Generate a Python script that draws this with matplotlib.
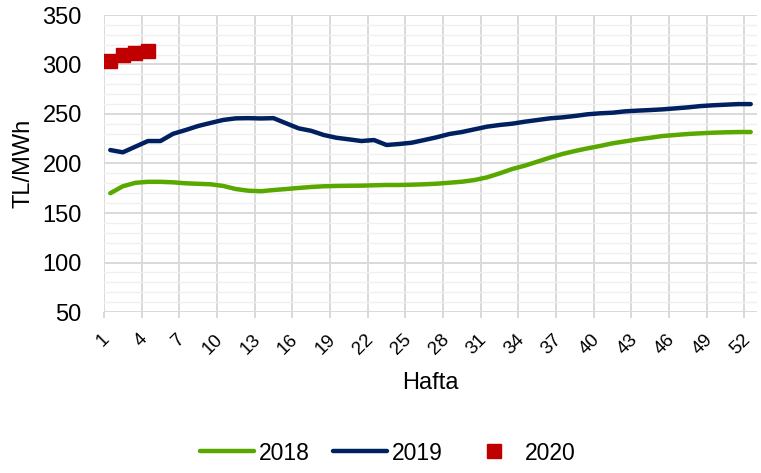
#!/usr/bin/env python3
"""Weekly average price (TL/MWh) for 2018, 2019 and the first weeks of 2020."""

import matplotlib
import matplotlib.pyplot as plt
import matplotlib.transforms as mtransforms
from matplotlib.ticker import FixedLocator, MultipleLocator

matplotlib.use("Agg")

weeks = list(range(1, 53))

price_2018 = [
    170, 177, 180.5, 181.5, 181.5, 181, 180, 179.5, 179, 177.3,
    174.2, 172.5, 172, 173.2, 174.2, 175.3, 176.3, 177, 177.3, 177.5,
    177.6, 178, 178.3, 178.3, 178.6, 179, 179.6, 180.6, 181.6, 183.3,
    186, 190, 194.4, 197.8, 201.8, 205.9, 209.6, 212.6, 215.3, 217.7,
    220.4, 222.4, 224.4, 226, 227.8, 228.8, 229.8, 230.5, 231.1, 231.5,
    231.8, 231.8,
]

price_2019 = [
    213.6, 211.3, 217, 222.7, 222.7, 230, 233.8, 237.9, 241, 244,
    245.6, 245.8, 245.5, 245.8, 240.6, 235.5, 233, 228.8, 226, 224.4,
    222.7, 223.7, 218.7, 219.7, 221, 223.7, 226.5, 229.8, 231.8, 234.5,
    237.2, 238.9, 240.2, 242.2, 243.9, 245.6, 246.6, 248, 249.7, 250.7,
    251.3, 252.7, 253.4, 254, 254.7, 255.7, 256.7, 258, 258.8, 259.4,
    260, 260,
]

weeks_2020 = [1, 2, 3, 4]
price_2020 = [304, 310, 312, 314]

tick_weeks = list(range(1, 53, 3))

GREEN = "#58a800"
NAVY = "#002060"
RED = "#c00000"
FONT = "Liberation Sans"


def main() -> None:
    plt.rcParams["font.family"] = [FONT, "DejaVu Sans"]

    fig = plt.figure(figsize=(7.61, 4.73), dpi=100)
    ax = fig.add_axes([104 / 761, 1 - 312 / 473, (757 - 104) / 761, (312 - 15) / 473])

    # grid first so the series sit on top
    ax.set_axisbelow(True)
    ax.yaxis.set_major_locator(MultipleLocator(50))
    ax.yaxis.set_minor_locator(MultipleLocator(10))
    ax.grid(axis="y", which="major", color="#d9d9d9", linewidth=1.4)
    ax.grid(axis="y", which="minor", color="#f0f0f0", linewidth=1.0)

    # category boundaries every third week carry the vertical grid + tick marks
    bounds = [w - 0.5 for w in tick_weeks]
    ax.xaxis.set_minor_locator(FixedLocator(bounds))
    ax.grid(axis="x", which="minor", color="#d9d9d9", linewidth=1.4)
    ax.tick_params(axis="x", which="minor", length=4, width=1.4, color="#d9d9d9")

    ax.plot(weeks, price_2018, color=GREEN, linewidth=3.2, solid_capstyle="round",
            solid_joinstyle="round", label="2018")
    ax.plot(weeks, price_2019, color=NAVY, linewidth=3.2, solid_capstyle="round",
            solid_joinstyle="round", label="2019")
    ax.plot(weeks_2020, price_2020, linestyle="none", marker="s", markersize=9.4,
            color=RED, label="2020")

    ax.set_xlim(0.5, 52.5)
    ax.set_ylim(50, 350)

    ax.set_xticks(tick_weeks)
    ax.set_xticklabels([str(w) for w in tick_weeks], rotation=45, ha="right",
                       va="top", fontsize=13.5)
    ax.tick_params(axis="x", which="major", length=0, pad=13.5)
    shift = mtransforms.ScaledTranslation(3 / 100, 0, fig.dpi_scale_trans)
    for lbl in ax.get_xticklabels():
        lbl.set_transform(lbl.get_transform() + shift)

    ax.tick_params(axis="y", which="both", length=0, labelsize=17, pad=16)

    for side in ("top", "right", "bottom", "left"):
        ax.spines[side].set_visible(False)

    ax.set_xlabel("Hafta", fontsize=17, labelpad=10)
    ax.set_ylabel("TL/MWh", fontsize=17, labelpad=6)

    fig.legend(
        loc="center",
        bbox_to_anchor=(388 / 761, 1 - 453 / 473),
        ncol=3,
        frameon=False,
        fontsize=16.5,
        handlelength=2.35,
        handletextpad=0.2,
        columnspacing=1.05,
    )

    fig.savefig("out.png", dpi=100)
    plt.close(fig)


if __name__ == "__main__":
    main()
